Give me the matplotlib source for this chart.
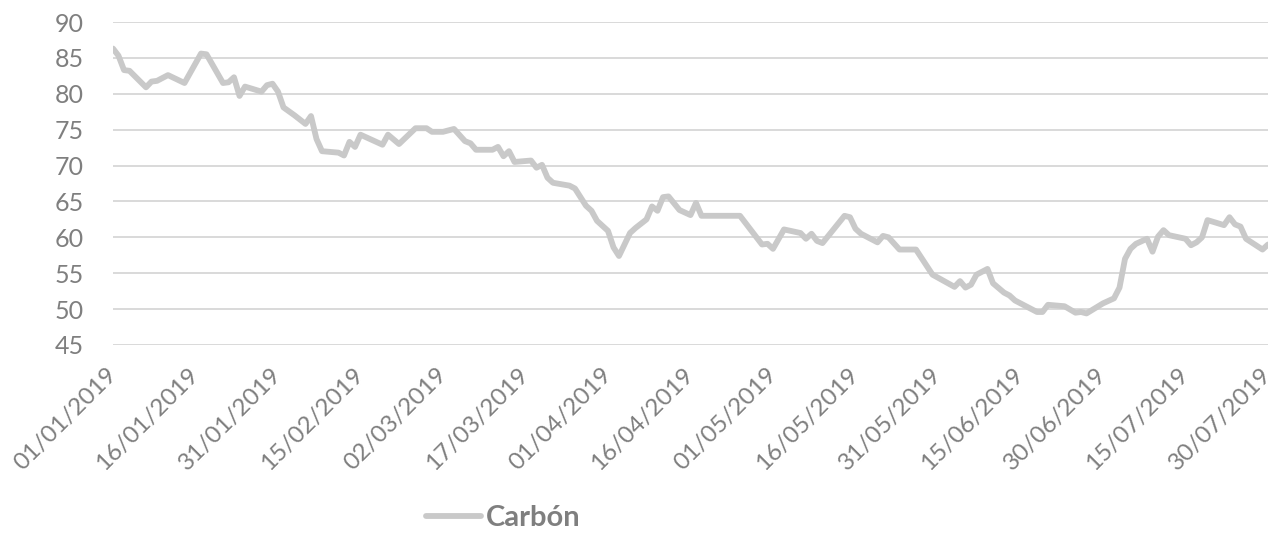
import matplotlib
matplotlib.use("Agg")
import matplotlib.pyplot as plt
import matplotlib.dates as mdates
import pandas as pd

dates = [
    "2019-01-01", "2019-01-02", "2019-01-03", "2019-01-04", "2019-01-07", "2019-01-08",
    "2019-01-09", "2019-01-11", "2019-01-14", "2019-01-17", "2019-01-18", "2019-01-21",
    "2019-01-22", "2019-01-23", "2019-01-24", "2019-01-25", "2019-01-28", "2019-01-29",
    "2019-01-30", "2019-01-31", "2019-02-01", "2019-02-03", "2019-02-05", "2019-02-06",
    "2019-02-07", "2019-02-08", "2019-02-11", "2019-02-12", "2019-02-13", "2019-02-14",
    "2019-02-15", "2019-02-19", "2019-02-20", "2019-02-22", "2019-02-25", "2019-02-27",
    "2019-02-28", "2019-03-02", "2019-03-04", "2019-03-06", "2019-03-07", "2019-03-08",
    "2019-03-11", "2019-03-12", "2019-03-13", "2019-03-14", "2019-03-15", "2019-03-18",
    "2019-03-19", "2019-03-20", "2019-03-21", "2019-03-22", "2019-03-25", "2019-03-26",
    "2019-03-28", "2019-03-29", "2019-03-30", "2019-04-01", "2019-04-02", "2019-04-03",
    "2019-04-05", "2019-04-06", "2019-04-08", "2019-04-09", "2019-04-10", "2019-04-11",
    "2019-04-12", "2019-04-14", "2019-04-16", "2019-04-17", "2019-04-18", "2019-04-25",
    "2019-04-29", "2019-04-30", "2019-05-01", "2019-05-03", "2019-05-06", "2019-05-07",
    "2019-05-08", "2019-05-09", "2019-05-10", "2019-05-14", "2019-05-15", "2019-05-16",
    "2019-05-17", "2019-05-20", "2019-05-21", "2019-05-22", "2019-05-24", "2019-05-27",
    "2019-05-30", "2019-06-03", "2019-06-04", "2019-06-05", "2019-06-06", "2019-06-07",
    "2019-06-09", "2019-06-10", "2019-06-12", "2019-06-13", "2019-06-14", "2019-06-18",
    "2019-06-19", "2019-06-20", "2019-06-23", "2019-06-25", "2019-06-26", "2019-06-27",
    "2019-06-30", "2019-07-02", "2019-07-03", "2019-07-04", "2019-07-05", "2019-07-06",
    "2019-07-08", "2019-07-09", "2019-07-10", "2019-07-11", "2019-07-12", "2019-07-15",
    "2019-07-16", "2019-07-17", "2019-07-18", "2019-07-19", "2019-07-22", "2019-07-23",
    "2019-07-24", "2019-07-25", "2019-07-26", "2019-07-29", "2019-07-30",
]

carbon = [
    86.3, 85.3, 83.3, 83.2, 80.9, 81.7,
    81.8, 82.6, 81.5, 85.6, 85.5, 81.5,
    81.6, 82.3, 79.7, 81.0, 80.3, 81.2,
    81.4, 80.3, 78.1, 77.0, 75.8, 76.9,
    73.7, 72.0, 71.8, 71.4, 73.3, 72.6,
    74.3, 72.9, 74.3, 73.0, 75.2, 75.2,
    74.7, 74.7, 75.1, 73.4, 73.1, 72.2,
    72.2, 72.6, 71.3, 72.0, 70.5, 70.7,
    69.7, 70.1, 68.3, 67.6, 67.2, 66.8,
    64.4, 63.7, 62.3, 60.9, 58.6, 57.4,
    60.6, 61.3, 62.5, 64.3, 63.7, 65.6,
    65.7, 63.8, 63.1, 64.8, 63.0, 63.0,
    59.0, 59.1, 58.4, 61.1, 60.6, 59.8,
    60.5, 59.5, 59.2, 63.0, 62.8, 61.2,
    60.5, 59.3, 60.2, 60.0, 58.3, 58.3,
    54.8, 53.1, 53.9, 53.0, 53.4, 54.8,
    55.6, 53.6, 52.3, 51.9, 51.2, 49.6,
    49.6, 50.6, 50.4, 49.5, 49.6, 49.4,
    50.8, 51.5, 53.0, 57.0, 58.4, 59.1,
    59.8, 58.0, 60.1, 61.0, 60.3, 59.8,
    58.9, 59.3, 60.0, 62.4, 61.7, 62.8,
    61.8, 61.5, 59.8, 58.3, 59.0,
]

series_name = "Carbón"
y_ticks = [45, 50, 55, 60, 65, 70, 75, 80, 85, 90]

plt.rcParams['font.family'] = ['Lato', 'DejaVu Sans']

x = pd.to_datetime(dates)
fig = plt.figure(figsize=(12.69, 5.35), dpi=100)
ax = fig.add_axes([113 / 1269, 1 - 345 / 535, (1268 - 113) / 1269, (345 - 22) / 535])

ax.plot(x, carbon, color="#c9c9c9", lw=4.2, solid_joinstyle="round",
        solid_capstyle="round", label=series_name, zorder=3)

ax.set_ylim(45, 90)
ax.set_yticks(y_ticks)
ax.set_xlim(pd.Timestamp("2019-01-01"), pd.Timestamp("2019-07-30"))
tick_dates = pd.date_range("2019-01-01", "2019-07-30", freq="15D")
ax.set_xticks(tick_dates)
ax.xaxis.set_major_formatter(mdates.DateFormatter("%d/%m/%Y"))

ax.grid(axis="y", color="#d9d9d9", lw=1.4)
ax.set_axisbelow(True)
for s in ax.spines.values():
    s.set_visible(False)
ax.tick_params(axis="both", length=0, colors="#7f7f7f")
ax.tick_params(axis="y", pad=21, labelsize=18)
ax.tick_params(axis="x", pad=19, labelsize=17.5)
for lab in ax.get_xticklabels():
    lab.set_rotation(45)
    lab.set_ha("right")
    lab.set_va("center")
    lab.set_rotation_mode("anchor")

leg = ax.legend(loc="center", frameon=False,
                prop={"size": 21, "weight": "bold"}, handlelength=1.9,
                handletextpad=0.15)
for t in leg.get_texts():
    t.set_color("#7f7f7f")
leg.set_bbox_to_anchor((503 / 1269, 1 - 518 / 535), transform=fig.transFigure)
for h in leg.get_lines():
    h.set_linewidth(4.2)

fig.savefig("out.png", dpi=100)
